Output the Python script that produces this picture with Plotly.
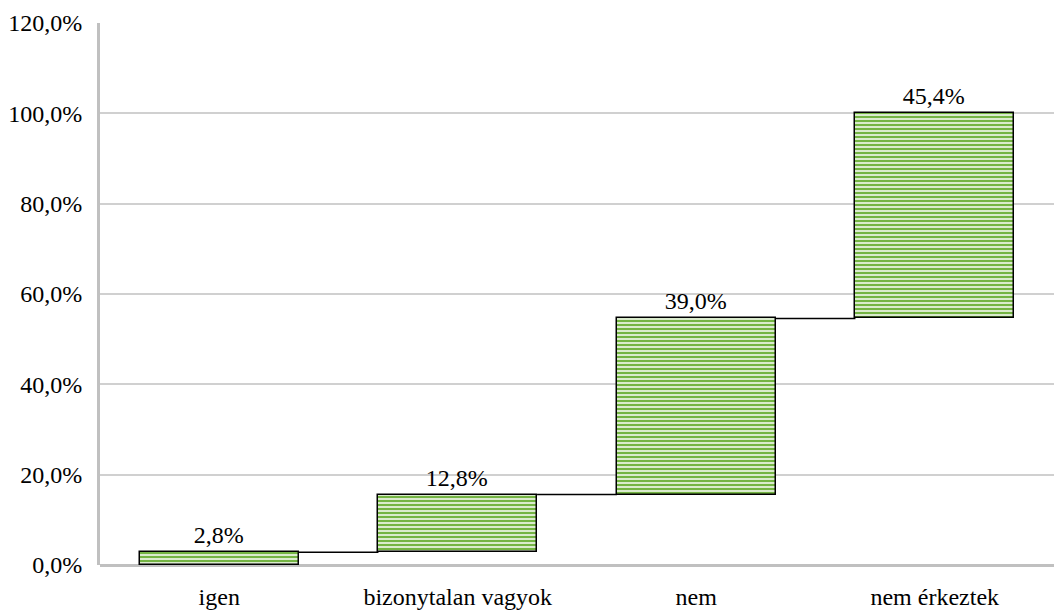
import plotly.graph_objects as go

categories = ["igen", "bizonytalan vagyok", "nem", "nem érkeztek"]
shares = [2.8, 12.8, 39.0, 45.4]
y_ticks = [0, 20, 40, 60, 80, 100, 120]
y_tick_labels = [f"{v:.1f}%".replace(".", ",") for v in y_ticks]

# running totals give each bar's base and the connector heights
bases = []
tops = []
total = 0.0
for v in shares:
    bases.append(total)
    total += v
    tops.append(total)

x_idx = list(range(len(categories)))
bar_w = 0.665

fig = go.Figure()

# connector lines between consecutive bars
cx, cy = [], []
for i in range(len(categories) - 1):
    cx += [x_idx[i] + bar_w / 2, x_idx[i + 1] - bar_w / 2, None]
    cy += [tops[i], tops[i], None]
fig.add_trace(go.Scatter(
    x=cx, y=cy, mode="lines",
    line=dict(color="black", width=1.5),
    hoverinfo="skip", showlegend=False,
))

fig.add_trace(go.Bar(
    x=x_idx, y=shares, base=bases, width=bar_w,
    marker=dict(
        color="#e6f2dc",
        line=dict(color="black", width=1.5),
        pattern=dict(shape="-", fgcolor="#74b443", bgcolor="#e6f2dc",
                     size=4, solidity=0.55, fillmode="replace"),
    ),
    texttemplate="%{y:.1f}%", textposition="outside",
    textfont=dict(family="Liberation Serif", size=24, color="black"),
    cliponaxis=False, showlegend=False,
))

fig.update_layout(
    width=1054, height=614,
    margin=dict(l=100, r=0, t=23, b=49),
    plot_bgcolor="white", paper_bgcolor="white",
    separators=", ",
    font=dict(family="Liberation Serif", size=24, color="black"),
    xaxis=dict(
        tickmode="array", tickvals=x_idx, ticktext=categories,
        range=[-0.5, 3.5], showgrid=False, zeroline=False,
        ticks="outside", ticklen=10, tickcolor="rgba(0,0,0,0)",
        showline=False,
    ),
    yaxis=dict(
        range=[0, 120], tickmode="array", tickvals=y_ticks,
        ticktext=y_tick_labels,
        showgrid=True, gridcolor="#d0d0d0", gridwidth=1.5,
        zeroline=True, zerolinecolor="#c0c0c0", zerolinewidth=3,
        showline=True, linecolor="#c0c0c0", linewidth=3,
        ticks="outside", ticklen=10, tickcolor="rgba(0,0,0,0)",
    ),
    bargap=0,
)

fig.write_html("out.html")
